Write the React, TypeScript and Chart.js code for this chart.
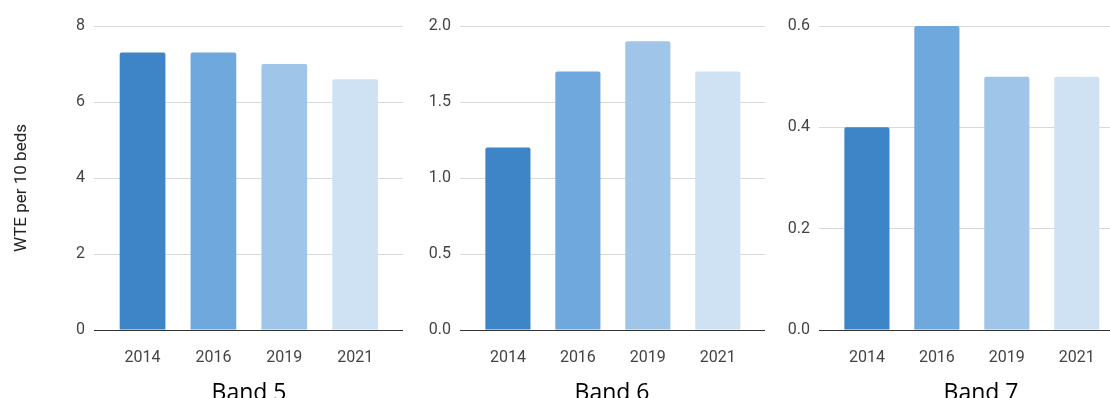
import React, { useEffect, useRef } from "react";
import { Chart, registerables } from "chart.js";

Chart.register(...registerables);

const years = ["2014", "2016", "2019", "2021"];
const band5 = [7.3, 7.3, 7.0, 6.6];
const band6 = [1.2, 1.7, 1.9, 1.7];
const band7 = [0.4, 0.6, 0.5, 0.5];
const barColors = ["#3d85c6", "#6fa8dc", "#9fc5e8", "#cfe2f3"];
const band5Max = 8;
const band5Step = 2;
const band6Max = 2;
const band6Step = 0.5;
const band7Max = 0.6;
const band7Step = 0.2;
const panelTitles = ["Band 5", "Band 6", "Band 7"];
const yAxisTitle = "WTE per 10 beds";

const tickFont = { family: "Roboto, Arial, sans-serif", size: 16 };
const tickColor = "#444444";

type PanelProps = {
  left: number;
  width: number;
  axisWidth: number;
  values: number[];
  yMax: number;
  yStep: number;
  decimals: number;
};

function Panel({ left, width, axisWidth, values, yMax, yStep, decimals }: PanelProps) {
  const ref = useRef<HTMLCanvasElement | null>(null);
  useEffect(() => {
    if (!ref.current) return;
    const chart = new Chart(ref.current, {
      type: "bar",
      data: {
        datasets: [
          {
            data: values.map((v, i) => ({ x: i, y: v })),
            backgroundColor: barColors,
            borderRadius: { topLeft: 2, topRight: 2, bottomLeft: 0, bottomRight: 0 },
            borderSkipped: false,
            barPercentage: 0.645,
            categoryPercentage: 1,
          } as any,
        ],
      },
      options: {
        animation: false,
        responsive: false,
        maintainAspectRatio: false,
        layout: { padding: { top: 26, left: 0, right: 0, bottom: 0 } },
        plugins: { legend: { display: false }, tooltip: { enabled: false } },
        scales: {
          x: {
            type: "linear",
            offset: false,
            min: -0.685,
            max: 3.675,
            grid: { display: false },
            border: { display: false },
            afterBuildTicks: (s: any) => {
              s.ticks = years.map((_, i) => ({ value: i }));
            },
            afterFit: (s: any) => {
              s.height = 68;
            },
            ticks: {
              autoSkip: false,
              maxRotation: 0,
              padding: 10,
              font: tickFont,
              color: tickColor,
              callback: (v: any) => years[Math.round(Number(v))] ?? "",
            },
          },
          y: {
            min: 0,
            max: yMax,
            afterFit: (s: any) => {
              s.width = axisWidth;
            },
            border: { display: false },
            grid: {
              drawTicks: false,
              color: (ctx: any) => (ctx.tick && ctx.tick.value === 0 ? "#333333" : "#d9d9d9"),
              lineWidth: 1,
            },
            ticks: {
              stepSize: yStep,
              padding: 9,
              font: tickFont,
              color: tickColor,
              callback: (v: any) => Number(v).toFixed(decimals),
            },
          },
        },
      } as any,
    });
    return () => chart.destroy();
  }, []);
  return (
    <div style={{ position: "absolute", left, top: 0, width, height: 398 }}>
      <canvas ref={ref} width={width} height={398} style={{ width, height: 398, display: "block" }} />
    </div>
  );
}

export default function App() {
  const titleStyle: React.CSSProperties = {
    position: "absolute",
    top: 380,
    transform: "translateX(-50%)",
    fontFamily: "'Open Sans', sans-serif",
    fontSize: 23,
    lineHeight: 1,
    color: "#000",
    whiteSpace: "nowrap",
  };
  return (
    <div
      style={{
        position: "fixed",
        left: 0,
        top: 0,
        width: 1110,
        height: 398,
        overflow: "hidden",
        background: "#fff",
      }}
    >
      <Panel left={0} width={403} axisWidth={94} values={band5} yMax={band5Max} yStep={band5Step} decimals={0} />
      <Panel left={403} width={362} axisWidth={57} values={band6} yMax={band6Max} yStep={band6Step} decimals={1} />
      <Panel left={765} width={359} axisWidth={54} values={band7} yMax={band7Max} yStep={band7Step} decimals={1} />
      <div
        style={{
          position: "absolute",
          left: 20,
          top: 188,
          transform: "translate(-50%, -50%) rotate(-90deg)",
          fontFamily: "Roboto, Arial, sans-serif",
          fontSize: 17,
          color: "#222",
          whiteSpace: "nowrap",
        }}
      >
        {yAxisTitle}
      </div>
      <div style={{ ...titleStyle, left: 249 }}>{panelTitles[0]}</div>
      <div style={{ ...titleStyle, left: 612 }}>{panelTitles[1]}</div>
      <div style={{ ...titleStyle, left: 981 }}>{panelTitles[2]}</div>
    </div>
  );
}
